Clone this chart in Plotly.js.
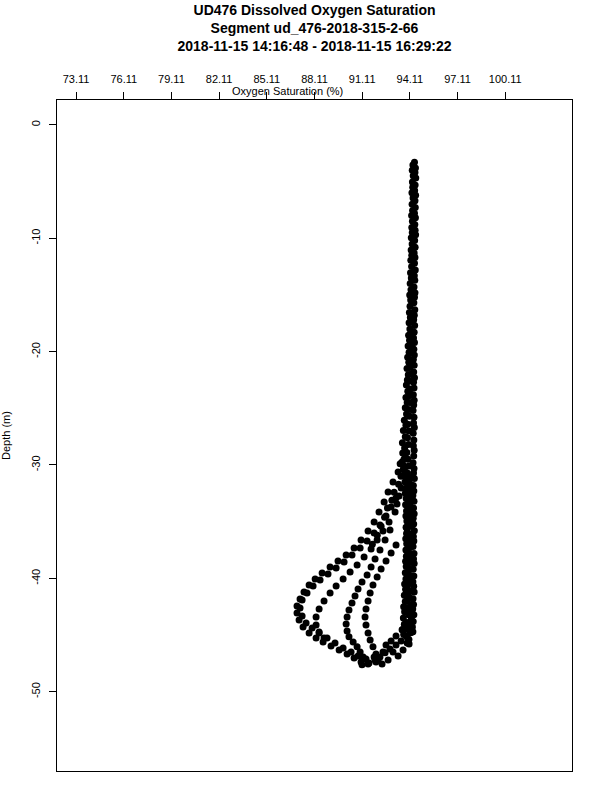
<!DOCTYPE html>
<html><head><meta charset="utf-8">
<script src="https://cdn.plot.ly/plotly-3.0.1.min.js"></script>
<style>html,body{margin:0;padding:0;background:#fff}#chart{width:600px;height:800px}</style>
</head><body><div id="chart"></div>
<script>
const titleLines = ['UD476 Dissolved Oxygen Saturation', 'Segment ud_476-2018-315-2-66', '2018-11-15 14:16:48 - 2018-11-15 16:29:22'];
const xTitle = 'Oxygen Saturation (%)';
const yTitle = 'Depth (m)';
const xTickVals = [73.11, 76.11, 79.11, 82.11, 85.11, 88.11, 91.11, 94.11, 97.11, 100.11];
const xTickText = ['73.11', '76.11', '79.11', '82.11', '85.11', '88.11', '91.11', '94.11', '97.11', '100.11'];
const yTickVals = [0, -10, -20, -30, -40, -50];
const yTickText = ['0', '-10', '-20', '-30', '-40', '-50'];

// main column, right side
const depthA = [-3.3, -3.8, -4.2, -4.7, -5.3, -5.8, -6.2, -6.7, -7.3, -7.8, -8.2, -8.8, -9.3, -9.7,
  -10.2, -10.8, -11.3, -11.7, -12.2, -12.8, -13.3, -13.7, -14.3, -14.8, -15.2, -15.7, -16.3, -16.8,
  -17.2, -17.7, -18.3, -18.8, -19.2, -19.8, -20.3, -20.7, -21.2, -21.8, -22.3, -22.7, -23.2, -23.8,
  -24.3, -24.7, -25.2, -25.8, -26.3, -26.7, -27.2, -27.8, -28.3, -28.7, -29.2, -29.8, -30.3, -30.7,
  -31.2, -31.8, -32.3, -32.7, -33.2, -33.8, -34.3, -34.7, -35.2, -35.8, -36.3, -36.7, -37.2, -37.8,
  -38.3, -38.7, -39.2, -39.8, -40.3, -40.7, -41.2, -41.8, -42.3, -42.7, -43.2, -43.8, -44.3, -44.7];
const oxyA = [94.40, 94.46, 94.43, 94.48, 94.44, 94.41, 94.47, 94.43, 94.45, 94.40, 94.46, 94.42, 94.44, 94.47,
  94.41, 94.44, 94.38, 94.43, 94.40, 94.45, 94.39, 94.42, 94.37, 94.43, 94.40, 94.36, 94.42, 94.39,
  94.35, 94.41, 94.38, 94.34, 94.40, 94.36, 94.39, 94.33, 94.38, 94.35, 94.40, 94.34, 94.37, 94.33,
  94.38, 94.35, 94.31, 94.37, 94.34, 94.39, 94.32, 94.36, 94.33, 94.38, 94.35, 94.31, 94.37, 94.34,
  94.39, 94.33, 94.36, 94.30, 94.37, 94.34, 94.38, 94.32, 94.35, 94.39, 94.33, 94.36, 94.31, 94.37,
  94.34, 94.38, 94.32, 94.36, 94.30, 94.35, 94.38, 94.31, 94.34, 94.29, 94.36, 94.32, 94.27, 94.30];

// main column, left side
const depthB = [-3.55, -4.0, -4.5, -5.05, -5.5, -6.0, -6.45, -7.0, -7.55, -8.0, -8.5, -9.05, -9.5, -9.95,
  -10.5, -11.05, -11.5, -11.95, -12.5, -13.05, -13.5, -14.0, -14.55, -15.0, -15.45, -16.0, -16.55, -17.0,
  -17.45, -18.0, -18.55, -19.0, -19.5, -20.05, -20.5, -20.95, -21.5, -22.05, -22.5, -22.95, -23.5, -24.05,
  -24.5, -24.95, -25.5, -26.05, -26.5, -26.95, -27.5, -28.05, -28.5, -28.95, -29.5, -30.05, -30.5, -30.95,
  -31.5, -32.05, -32.5, -32.95, -33.5, -34.05, -34.5, -34.95, -35.5, -36.05, -36.5, -36.95, -37.5, -38.05,
  -38.5, -38.95, -39.5, -40.05, -40.5, -40.95, -41.5, -42.05, -42.5, -42.95, -43.5, -44.05, -44.5, -44.95];
const oxyB = [94.30, 94.26, 94.32, 94.27, 94.29, 94.24, 94.31, 94.25, 94.28, 94.22, 94.27, 94.23, 94.26, 94.20,
  94.25, 94.19, 94.23, 94.17, 94.22, 94.15, 94.20, 94.13, 94.18, 94.10, 94.16, 94.12, 94.08, 94.14,
  94.06, 94.11, 94.03, 94.09, 94.00, 94.06, 93.97, 94.04, 93.93, 94.01, 93.95, 93.89, 93.98, 93.86,
  93.94, 93.82, 93.90, 93.76, 93.86, 93.70, 93.82, 93.64, 93.78, 93.66, 93.74, 93.70, 93.78, 93.74,
  93.80, 93.86, 93.82, 93.88, 93.84, 93.90, 93.86, 93.92, 93.87, 93.90, 93.85, 93.91, 93.86, 93.89,
  93.84, 93.88, 93.82, 93.86, 93.78, 93.84, 93.76, 93.82, 93.72, 93.78, 93.70, 93.76, 93.66, 93.72];

// main column, middle
const depthM = [-18.2, -18.9, -19.5, -20.1, -20.8, -21.4, -22.0, -22.6, -23.3, -23.9,
  -24.5, -25.1, -25.7, -26.4, -27.0, -27.6, -28.2, -28.9, -29.5, -30.1,
  -30.7, -31.4, -32.0, -32.6, -33.2, -33.9, -34.5, -35.1, -35.7, -36.4,
  -37.0, -37.6, -38.2, -38.9, -39.5, -40.1, -40.7, -41.4, -42.0, -42.6,
  -43.2, -43.9, -44.5, -45.1, -45.7];
const oxyM = [94.22, 94.18, 94.24, 94.15, 94.20, 94.12, 94.17, 94.09, 94.14, 94.06,
  94.11, 94.02, 94.08, 93.98, 94.05, 93.96, 94.02, 93.92, 93.99, 94.04,
  93.95, 94.01, 94.06, 93.97, 94.03, 94.08, 93.99, 94.04, 93.95, 94.00,
  94.06, 93.96, 94.02, 93.93, 93.99, 94.05, 93.94, 94.00, 93.91, 93.97,
  94.03, 93.92, 93.98, 93.88, 93.94];

// main column, fill between middle and right below 30 m
const depthN = [-31.1, -31.7, -32.3, -32.9, -33.6, -34.2, -34.8, -35.4, -36.1, -36.7, -37.3, -37.9,
  -38.6, -39.2, -39.8, -40.4, -41.1, -41.7, -42.3, -42.9, -43.6, -44.2, -44.8, -45.4];
const oxyN = [94.18, 94.14, 94.21, 94.16, 94.12, 94.19, 94.15, 94.22, 94.13, 94.18, 94.11, 94.20,
  94.16, 94.12, 94.19, 94.14, 94.21, 94.10, 94.17, 94.13, 94.20, 94.08, 94.15, 94.05];

// outer loop
const depthC1 = [-29.73, -30.62, -31.50, -32.38, -33.26, -34.14, -35.03, -35.82, -36.61, -37.32,
  -37.93, -38.46, -38.99, -39.52, -40.05, -40.58, -41.20, -41.82, -42.43, -43.05,
  -43.67, -44.28, -44.81, -45.25, -45.61, -45.96, -46.31, -46.67, -47.02, -47.37,
  -47.55, -47.37];
const oxyC1 = [93.62, 93.37, 93.05, 92.74, 92.49, 92.17, 91.86, 91.48, 91.04, 90.60,
  90.10, 89.59, 89.09, 88.59, 88.15, 87.77, 87.45, 87.20, 87.01, 87.01,
  87.14, 87.39, 87.77, 88.21, 88.65, 89.15, 89.66, 90.16, 90.60, 91.04,
  91.48, 91.98];

const depthC1b = [-31.15, -32.03, -32.91, -33.70, -34.50, -35.29, -36.00, -36.70, -37.32, -37.93,
  -38.55, -39.08, -39.61, -40.14, -40.67, -41.29, -41.90, -42.61, -43.31, -43.93,
  -44.37, -44.81, -45.25, -45.70, -46.14, -46.49, -46.84, -47.11, -46.93, -46.49];
const oxyC1b = [93.87, 93.56, 93.24, 92.93, 92.61, 92.23, 91.86, 91.42, 90.98, 90.47,
  89.97, 89.47, 88.96, 88.46, 88.02, 87.64, 87.33, 87.20, 87.33, 87.58,
  87.96, 88.40, 88.90, 89.40, 89.91, 90.41, 90.85, 91.35, 91.86, 92.42];

const depthC2 = [-32.73, -33.44, -34.14, -35.03, -35.82, -36.61, -37.41, -38.11, -38.82, -39.43,
  -40.05, -40.67, -41.29, -41.99, -42.70, -43.40, -44.11, -44.73, -45.25];
const oxyC2 = [93.43, 93.30, 93.18, 92.80, 92.42, 92.05, 91.67, 91.23, 90.79, 90.35,
  89.91, 89.47, 89.09, 88.71, 88.40, 88.21, 88.21, 88.40, 88.71];

const depthC3 = [-35.73, -36.61, -37.49, -38.29, -38.99, -39.70, -40.32, -40.93, -41.55, -42.17,
  -42.78, -43.40, -44.02, -44.64, -45.16, -45.61, -46.04, -46.49, -46.93];
const oxyC3 = [92.86, 92.55, 92.23, 91.92, 91.67, 91.42, 91.10, 90.85, 90.66, 90.47,
  90.28, 90.16, 90.10, 90.16, 90.28, 90.54, 90.79, 90.98, 91.17];

const depthC4 = [-37.05, -37.76, -38.46, -39.17, -39.87, -40.58, -41.29, -41.99, -42.70, -43.40,
  -44.11, -44.81, -45.43, -46.04, -46.67, -47.20];
const oxyC4 = [93.24, 92.93, 92.61, 92.30, 92.05, 91.79, 91.61, 91.48, 91.35, 91.29,
  91.35, 91.48, 91.61, 91.79, 91.98, 92.11];

// bottom turn
const depthBot = [-44.73, -45.16, -45.52, -45.87, -46.22, -46.57, -46.93, -47.20, -47.46, -47.63,
  -44.28, -44.54, -45.08, -45.52, -45.87, -46.49, -46.84, -47.20, -47.55, -45.78, -46.31];
const oxyBot = [94.25, 93.93, 93.56, 93.24, 92.86, 92.55, 92.23, 91.92, 91.54, 91.10,
  94.00, 93.62, 93.24, 92.93, 92.61, 93.05, 93.37, 92.74, 92.36, 94.06, 93.68];

// extra points in the dense band where the loops leave the column
const depthBand = [-30.4, -31.0, -31.7, -32.4, -33.1, -33.8, -34.6, -35.4, -36.2, -37.0, -29.1, -29.9];
const oxyBand = [93.70, 93.55, 93.40, 93.12, 92.98, 92.70, 92.52, 92.30, 92.06, 91.75, 93.80, 93.50];

const oxygen = [].concat(oxyA, oxyB, oxyM, oxyN, oxyC1, oxyC1b, oxyC2, oxyC3, oxyC4, oxyBot, oxyBand);
const depth = [].concat(depthA, depthB, depthM, depthN, depthC1, depthC1b, depthC2, depthC3, depthC4, depthBot, depthBand);

const FONT = 'Liberation Sans, Arial, Helvetica, sans-serif';

const trace = {
  type: 'scatter', mode: 'markers', x: oxygen, y: depth,
  marker: {color: '#000000', size: 7, line: {width: 0}},
  hoverinfo: 'skip', showlegend: false
};

const layout = {
  width: 600, height: 800,
  margin: {l: 57, r: 28, t: 100, b: 29, pad: 0},
  paper_bgcolor: '#ffffff', plot_bgcolor: '#ffffff',
  showlegend: false,
  font: {family: FONT, size: 11, color: '#000000'},
  title: {
    text: titleLines.join('<br>'),
    font: {family: FONT, size: 14, weight: 'bold', color: '#000000'},
    x: 0.5, xref: 'paper', xanchor: 'center',
    y: 1 - 15 / 800, yref: 'container', yanchor: 'top'
  },
  xaxis: {
    side: 'top', range: [71.91, 104.31],
    tickmode: 'array', tickvals: xTickVals, ticktext: xTickText,
    ticks: 'outside', ticklen: 7, tickwidth: 1, tickcolor: '#000000',
    showline: true, linecolor: '#000000', linewidth: 1, mirror: true,
    showgrid: false, zeroline: false, tickfont: {family: FONT, size: 11},
    ticklabelstandoff: 5
  },
  yaxis: {
    range: [-56.99, 2.19],
    tickmode: 'array', tickvals: yTickVals, ticktext: yTickText,
    ticks: 'outside', ticklen: 7, tickwidth: 1, tickcolor: '#000000',
    showline: true, linecolor: '#000000', linewidth: 1, mirror: true,
    showgrid: false, zeroline: false, tickfont: {family: FONT, size: 11},
    tickangle: -90, ticklabelstandoff: 5,
    title: {text: yTitle, font: {family: FONT, size: 11}, standoff: 16}
  },
  annotations: [{
    text: xTitle, showarrow: false,
    xref: 'paper', yref: 'paper', x: (287 - 57) / 515, y: 1 + (100 - 90.5) / 671,
    xanchor: 'center', yanchor: 'middle',
    font: {family: FONT, size: 11, color: '#000000'}
  }]
};

Plotly.newPlot('chart', [trace], layout, {staticPlot: true, displayModeBar: false});
</script>
</body></html>
